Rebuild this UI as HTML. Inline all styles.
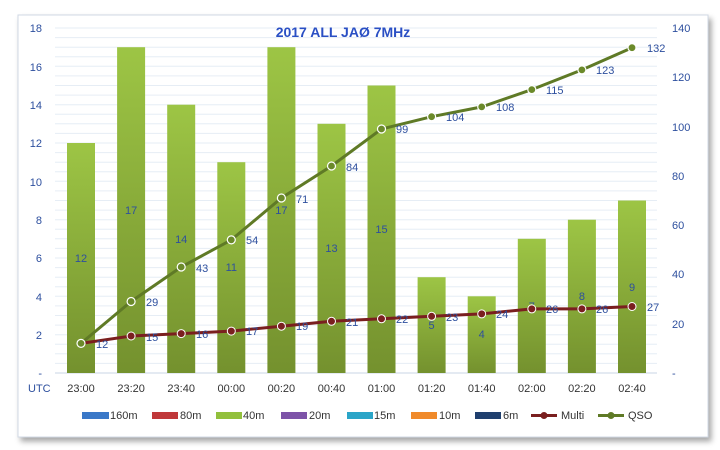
<!DOCTYPE html>
<html><head><meta charset="utf-8"><style>
body{margin:0;background:#fff;width:720px;height:450px;overflow:hidden}
svg{display:block;font-family:"Liberation Sans",sans-serif}
</style></head><body>
<svg width="720" height="450" viewBox="0 0 720 450">
<defs>
<linearGradient id="g" x1="0" y1="0" x2="0" y2="1"><stop offset="0" stop-color="#9dc545"/><stop offset="1" stop-color="#74912e"/></linearGradient>
<filter id="sh" x="-5%" y="-5%" width="110%" height="110%"><feDropShadow dx="3" dy="4" stdDeviation="3" flood-color="#000" flood-opacity="0.35"/></filter>
</defs>
<rect x="0" y="0" width="720" height="450" fill="#fff"/>
<rect x="18" y="15" width="690" height="422" fill="#fff" stroke="#d0d8e4" filter="url(#sh)"/>
<path stroke="#e6edf5" stroke-width="1" fill="none" d="M55 28H657M55 37.6H657M55 47.2H657M55 56.75H657M55 66.3H657M55 75.9H657M55 85.5H657M55 95.1H657M55 104.7H657M55 114.25H657M55 123.8H657M55 133.4H657M55 143H657M55 152.6H657M55 162.2H657M55 171.75H657M55 181.3H657M55 190.9H657M55 200.5H657M55 210.1H657M55 219.7H657M55 229.25H657M55 238.8H657M55 248.4H657M55 258H657M55 267.6H657M55 277.2H657M55 286.75H657M55 296.3H657M55 305.9H657M55 315.5H657M55 325.1H657M55 334.7H657M55 344.25H657M55 353.8H657M55 363.4H657"/>
<line x1="55" y1="373" x2="657" y2="373" stroke="#c8d4e4"/>
<g fill="url(#g)">
<rect x="67" y="143" width="28" height="230"/>
<rect x="117.1" y="47.2" width="28" height="325.8"/>
<rect x="167.2" y="104.7" width="28" height="268.3"/>
<rect x="217.3" y="162.2" width="28" height="210.8"/>
<rect x="267.4" y="47.2" width="28" height="325.8"/>
<rect x="317.5" y="123.8" width="28" height="249.2"/>
<rect x="367.5" y="85.5" width="28" height="287.5"/>
<rect x="417.6" y="277.2" width="28" height="95.8"/>
<rect x="467.7" y="296.3" width="28" height="76.7"/>
<rect x="517.8" y="238.8" width="28" height="134.2"/>
<rect x="567.9" y="219.7" width="28" height="153.3"/>
<rect x="618" y="200.5" width="28" height="172.5"/>
</g>
<g fill="#2d4f9e" font-size="11" text-anchor="middle">
<text x="81" y="262">12</text><text x="131.1" y="214">17</text><text x="181.2" y="243">14</text><text x="231.3" y="271">11</text><text x="281.4" y="214">17</text><text x="331.5" y="252">13</text><text x="381.5" y="233">15</text><text x="431.6" y="329">5</text><text x="481.7" y="338">4</text><text x="531.8" y="310">7</text><text x="581.9" y="300">8</text><text x="632" y="291">9</text>
</g>
<polyline fill="none" stroke="#7a1f1f" stroke-width="3" points="81,343.4 131.1,336 181.2,333.6 231.3,331.1 281.4,326.2 331.5,321.3 381.5,318.8 431.6,316.3 481.7,313.9 531.8,308.9 581.9,308.9 632,306.5"/>
<g fill="#7a1f1f" stroke="#fff" stroke-width="1"><circle cx="131.1" cy="336" r="4"/><circle cx="181.2" cy="333.6" r="4"/><circle cx="231.3" cy="331.1" r="4"/><circle cx="281.4" cy="326.2" r="4"/><circle cx="331.5" cy="321.3" r="4"/><circle cx="381.5" cy="318.8" r="4"/><circle cx="431.6" cy="316.3" r="4"/><circle cx="481.7" cy="313.9" r="4"/><circle cx="531.8" cy="308.9" r="4"/><circle cx="581.9" cy="308.9" r="4"/><circle cx="632" cy="306.5" r="4"/></g>
<polyline fill="none" stroke="#5f7a26" stroke-width="3" points="81,343.4 131.1,301.5 181.2,267 231.3,239.9 281.4,198 331.5,166 381.5,129 431.6,116.7 481.7,106.9 531.8,89.6 581.9,69.9 632,47.7"/>
<g fill="#6b8a2a" stroke="#fff" stroke-width="1.2"><circle cx="81" cy="343.4" r="4"/><circle cx="131.1" cy="301.5" r="4"/><circle cx="181.2" cy="267" r="4"/><circle cx="231.3" cy="239.9" r="4"/><circle cx="281.4" cy="198" r="4"/><circle cx="331.5" cy="166" r="4"/><circle cx="381.5" cy="129" r="4"/><circle cx="431.6" cy="116.7" r="4"/><circle cx="481.7" cy="106.9" r="4"/><circle cx="531.8" cy="89.6" r="4"/><circle cx="581.9" cy="69.9" r="4"/><circle cx="632" cy="47.7" r="4"/></g>
<g fill="#2d4f9e" font-size="11">
<text x="96" y="348">12</text><text x="146" y="341">15</text><text x="196" y="338">16</text><text x="246" y="335">17</text><text x="296" y="330">19</text><text x="346" y="326">21</text><text x="396" y="323">22</text><text x="446" y="321">23</text><text x="496" y="318">24</text><text x="546" y="313">26</text><text x="596" y="313">26</text><text x="647" y="311">27</text>
<text x="146" y="306">29</text><text x="196" y="272">43</text><text x="246" y="244">54</text><text x="296" y="203">71</text><text x="346" y="171">84</text><text x="396" y="133">99</text><text x="446" y="121">104</text><text x="496" y="111">108</text><text x="546" y="94">115</text><text x="596" y="74">123</text><text x="647" y="52">132</text>
</g>
<g fill="#2d4f9e" font-size="11" text-anchor="end">
<text x="42" y="32">18</text><text x="42" y="71">16</text><text x="42" y="109">14</text><text x="42" y="147">12</text><text x="42" y="186">10</text><text x="42" y="224">8</text><text x="42" y="262">6</text><text x="42" y="301">4</text><text x="42" y="339">2</text><text x="42" y="377">-</text>
</g>
<g fill="#2d4f9e" font-size="11">
<text x="672" y="32">140</text><text x="672" y="81">120</text><text x="672" y="131">100</text><text x="672" y="180">80</text><text x="672" y="229">60</text><text x="672" y="278">40</text><text x="672" y="328">20</text><text x="672" y="377">-</text>
</g>
<text x="343" y="37" font-size="14" font-weight="bold" fill="#2a4fc4" text-anchor="middle">2017 ALL JAØ 7MHz</text>
<text x="28" y="392" font-size="11" fill="#2d4f9e">UTC</text>
<g fill="#333" font-size="11" text-anchor="middle">
<text x="81" y="392">23:00</text><text x="131.1" y="392">23:20</text><text x="181.2" y="392">23:40</text><text x="231.3" y="392">00:00</text><text x="281.4" y="392">00:20</text><text x="331.5" y="392">00:40</text><text x="381.5" y="392">01:00</text><text x="431.6" y="392">01:20</text><text x="481.7" y="392">01:40</text><text x="531.8" y="392">02:00</text><text x="581.9" y="392">02:20</text><text x="632" y="392">02:40</text>
</g>
<g font-size="11" fill="#333">
<rect x="82" y="412" width="27" height="7" fill="#3a78c8"/><text x="110" y="419">160m</text>
<rect x="152" y="412" width="26" height="7" fill="#c0383a"/><text x="180" y="419">80m</text>
<rect x="216" y="412" width="26" height="7" fill="#92c03c"/><text x="243" y="419">40m</text>
<rect x="281" y="412" width="26" height="7" fill="#7d53a8"/><text x="309" y="419">20m</text>
<rect x="347" y="412" width="26" height="7" fill="#2aa5c8"/><text x="374" y="419">15m</text>
<rect x="411" y="412" width="26" height="7" fill="#f08a2a"/><text x="439" y="419">10m</text>
<rect x="475" y="412" width="26" height="7" fill="#1f3f6e"/><text x="503" y="419">6m</text>
<line x1="531" y1="415.5" x2="557" y2="415.5" stroke="#7a1f1f" stroke-width="3"/><circle cx="544" cy="415.5" r="3.5" fill="#7a1f1f"/><text x="561" y="419">Multi</text>
<line x1="598" y1="415.5" x2="624" y2="415.5" stroke="#5f7a26" stroke-width="3"/><circle cx="611" cy="415.5" r="3.5" fill="#5f7a26"/><text x="628" y="419">QSO</text>
</g>
</svg>
</body></html>
